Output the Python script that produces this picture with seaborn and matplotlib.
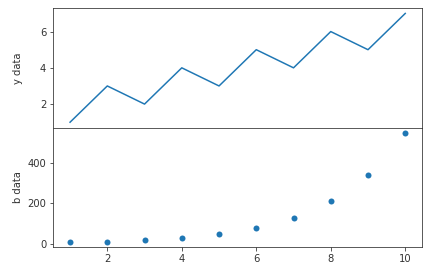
import matplotlib
matplotlib.use("Agg")
import matplotlib.pyplot as plt
import seaborn as sns
import pandas as pd

x_vals = [1, 2, 3, 4, 5, 6, 7, 8, 9, 10]
y_data = [1, 3, 2, 4, 3, 5, 4, 6, 5, 7]
b_data = [10, 10, 21, 31, 48, 80, 130, 212, 341, 548]

df = pd.DataFrame({"x": x_vals, "y": y_data, "b": b_data})

plt.rcParams["font.family"] = ["DejaVu Sans"]
plt.rcParams["font.size"] = 10

W, H = 433, 272
fig, (ax1, ax2) = plt.subplots(2, 1, sharex=True, figsize=(W / 72, H / 72), dpi=72)
fig.subplots_adjust(left=53.3 / W, right=422 / W, top=1 - 8 / H, bottom=1 - 247.3 / H, hspace=0)

sns.lineplot(data=df, x="x", y="y", ax=ax1, color="#1f77b4", linewidth=1.5)
sns.scatterplot(data=df, x="x", y="b", ax=ax2, color="#1f77b4", s=36, linewidth=0)

ax1.set_ylabel("y data")
ax2.set_ylabel("b data")
ax1.set_xlabel("")
ax2.set_xlabel("")
ax1.set_yticks([2, 4, 6])
ax2.set_yticks([0, 200, 400])
ax2.set_xticks([2, 4, 6, 8, 10])
for ax in (ax1, ax2):
    ax.tick_params(colors="#333333", labelcolor="#333333")
    for s in ax.spines.values():
        s.set_color("#333333")
ax1.tick_params(axis="x", bottom=False)
ax1.yaxis.label.set_color("#333333")
ax2.yaxis.label.set_color("#333333")
fig.align_ylabels([ax1, ax2])

fig.savefig("out.png", dpi=72)
